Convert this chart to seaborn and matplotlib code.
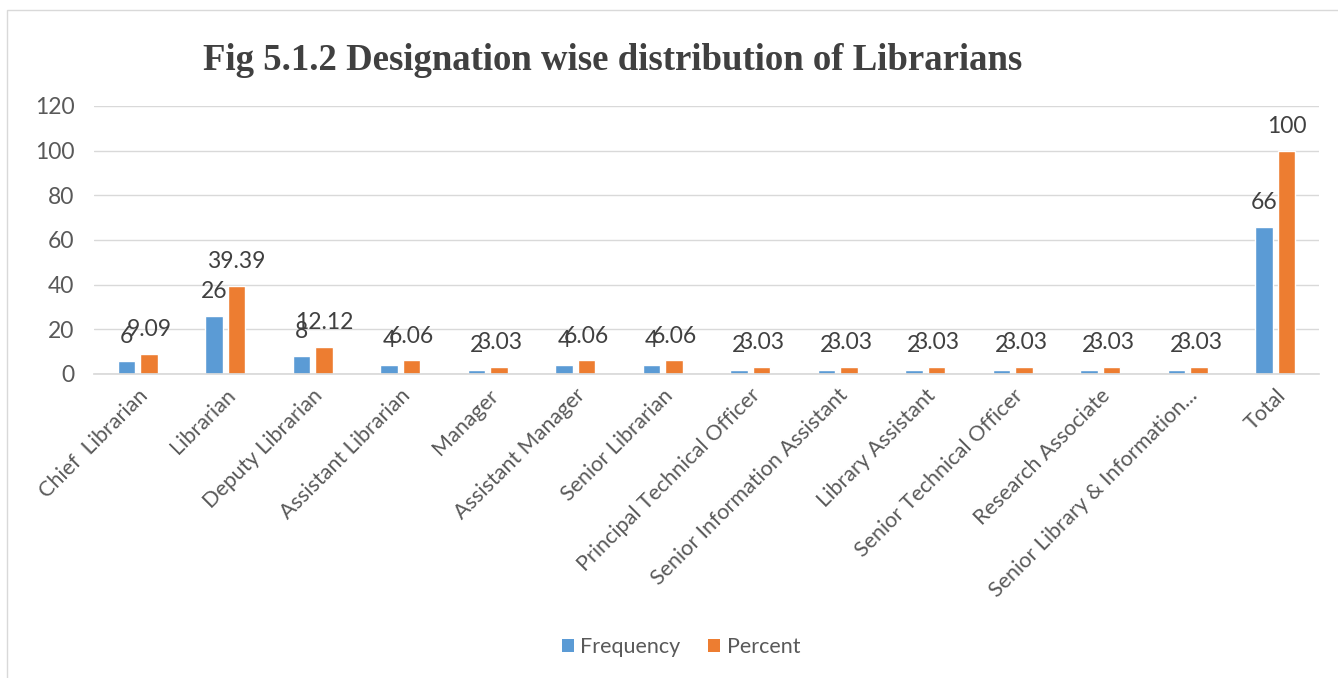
import matplotlib
matplotlib.use("Agg")
import matplotlib.pyplot as plt
from matplotlib.patches import Rectangle, Patch
import seaborn as sns
import pandas as pd

designations = [
    "Chief  Librarian", "Librarian", "Deputy Librarian", "Assistant Librarian",
    "Manager", "Assistant Manager", "Senior Librarian", "Principal Technical Officer",
    "Senior Information Assistant", "Library Assistant", "Senior Technical Officer",
    "Research Associate", "Senior Library & Information...", "Total",
]
frequency = [6, 26, 8, 4, 2, 4, 4, 2, 2, 2, 2, 2, 2, 66]
percent = [9.09, 39.39, 12.12, 6.06, 3.03, 6.06, 6.06, 3.03, 3.03, 3.03, 3.03, 3.03, 3.03, 100]
series_names = ["Frequency", "Percent"]
yticks = [0, 20, 40, 60, 80, 100, 120]

title = "Fig 5.1.2 Designation wise distribution of Librarians"

df = pd.DataFrame({
    "Designation": designations * 2,
    "Series": [series_names[0]] * len(designations) + [series_names[1]] * len(designations),
    "Value": frequency + percent,
})

sns.set_theme(style="white")
plt.rcParams["font.family"] = ["Lato", "DejaVu Sans"]

W, H = 1338, 678
fig = plt.figure(figsize=(W / 100, H / 100), dpi=100)
fig.patch.set_facecolor("white")
ax = fig.add_axes([94 / W, 1 - 374 / H, (1319 - 94) / W, (374 - 106) / H])

palette = {"Frequency": "#5B9BD5", "Percent": "#ED7D31"}
sns.barplot(data=df, x="Designation", y="Value", hue="Series", order=designations,
            hue_order=series_names, palette=palette, width=0.52, gap=0.22,
            saturation=1, ax=ax, legend=True)

ax.set_ylim(0, 120)
ax.set_yticks(yticks)
ax.set_xlim(-0.5, len(designations) - 0.5)
ax.yaxis.grid(True, color="#D9D9D9", linewidth=1)
ax.set_axisbelow(True)
for s in ["top", "right", "left"]:
    ax.spines[s].set_visible(False)
ax.spines["bottom"].set_color("#D9D9D9")
ax.set_xlabel("")
ax.set_ylabel("")
ax.tick_params(axis="y", colors="#595959", labelsize=16.5, length=0, pad=14)
ax.tick_params(axis="x", colors="#595959", labelsize=15.5, length=0, pad=8)
plt.setp(ax.get_xticklabels(), rotation=45, ha="right", rotation_mode="anchor")

for container in ax.containers:
    vals = container.datavalues
    ax.bar_label(container, labels=[f"{v:g}" for v in vals], padding=10,
                 fontsize=16.5, color="#404040")

handles = [Patch(facecolor=palette[n], edgecolor="none") for n in series_names]
ax.get_legend().remove()
fig.legend(handles, series_names, loc="center", bbox_to_anchor=(681 / W, 1 - 647 / H),
           ncol=2, frameon=False, fontsize=15.5, handlelength=0.55, handleheight=0.55,
           handletextpad=0.3, columnspacing=1.3, labelcolor="#595959")

fig.text(613 / W, 1 - 60 / H, title, ha="center", va="center", fontsize=26.5,
         fontweight="bold", family="Liberation Serif", color="#404040")

fig.patches.append(Rectangle((7 / W, -0.01), 1.02, 1 - 10 / H + 0.01,
                             transform=fig.transFigure, fill=False,
                             edgecolor="#D9D9D9", linewidth=1))

fig.savefig("out.png", dpi=100)
